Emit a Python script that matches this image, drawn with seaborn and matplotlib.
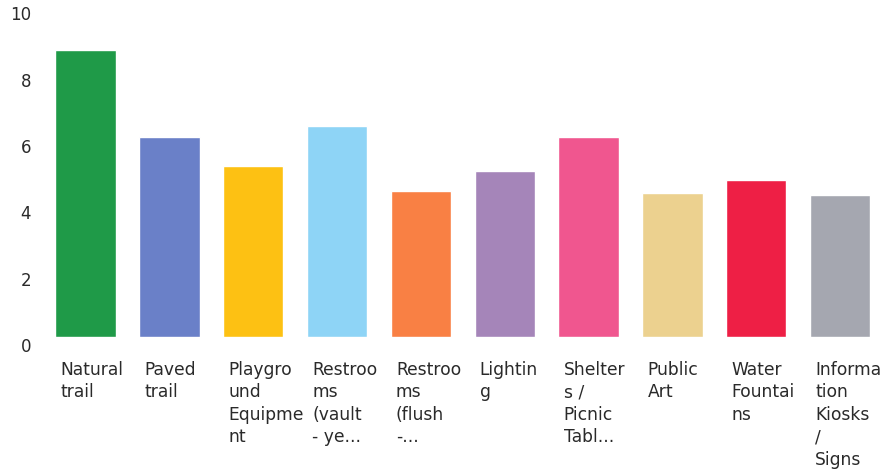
import matplotlib
matplotlib.use("Agg")
import matplotlib.pyplot as plt
import matplotlib.transforms as mtransforms
import seaborn as sns
import pandas as pd

categories = ["Natural\ntrail", "Paved\ntrail", "Playgro\nund\nEquipme\nnt",
              "Restroo\nms\n(vault\n- ye...", "Restroo\nms\n(flush\n-...",
              "Lightin\ng", "Shelter\ns /\nPicnic\nTabl...", "Public\nArt",
              "Water\nFountai\nns", "Informa\ntion\nKiosks\n/\nSigns"]
values = [8.64, 6.02, 5.15, 6.36, 4.40, 5.00, 6.02, 4.34, 4.73, 4.28]
colors = ["#1f9a48", "#6a80c8", "#fdc113", "#8ed4f6", "#f98044",
          "#a585b9", "#f0568f", "#ecd18f", "#ee1f45", "#a5a7b0"]
yticks = [0, 2, 4, 6, 8, 10]

sns.set_theme(style="white")
plt.rcParams["font.family"] = ["DejaVu Sans"]

df = pd.DataFrame({"cat": categories, "val": values})

fig = plt.figure(figsize=(8.82, 4.71), dpi=100)
ax = fig.add_axes([0.0495, 0.2845, 0.9505, 0.7045])
sns.barplot(data=df, x="cat", y="val", hue="cat", palette=colors,
            width=0.72, saturation=1, legend=False, ax=ax)

ax.set_ylim(0, 10)
ax.set_xlim(-0.5, len(categories) - 0.5)
ax.set_yticks(yticks)
ax.set_yticklabels([str(t) for t in yticks], fontsize=12, color="#2a2a2a")
ax.set_xlabel("")
ax.set_ylabel("")
for s in ax.spines.values():
    s.set_visible(False)
ax.tick_params(axis="y", length=0, pad=9)
ax.tick_params(axis="x", length=0, pad=17)

# shift y tick labels slightly down
off_y = mtransforms.ScaledTranslation(0, -8 / 100, fig.dpi_scale_trans)
for lab in ax.get_yticklabels():
    lab.set_transform(lab.get_transform() + off_y)

ax.set_xticks(range(len(categories)))
ax.set_xticklabels(categories, fontsize=12.3, color="#2a2a2a", ha="left",
                   va="top", linespacing=1.33)
off_x = mtransforms.ScaledTranslation(-25 / 100, 0, fig.dpi_scale_trans)
for lab in ax.get_xticklabels():
    lab.set_transform(lab.get_transform() + off_x)

fig.savefig("out.png", dpi=100, facecolor="white")
